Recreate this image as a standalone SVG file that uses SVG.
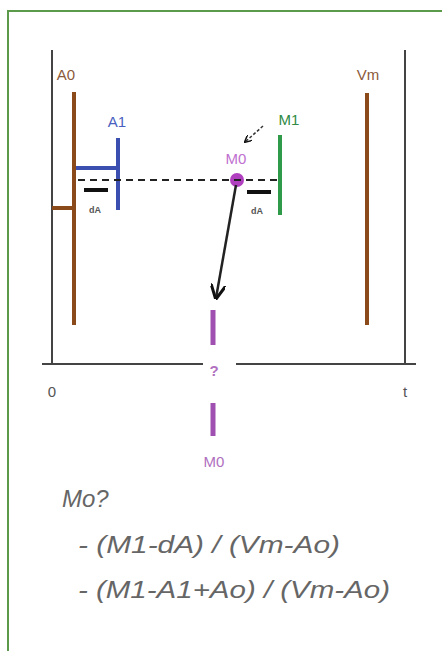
<svg xmlns="http://www.w3.org/2000/svg" width="442" height="651" viewBox="0 0 442 651">
<defs>
<style>
.lbl{font-family:"Liberation Sans",Arial,sans-serif;font-size:15px;text-anchor:middle}
.small{font-family:"Liberation Sans",Arial,sans-serif;font-size:9px;font-weight:bold;fill:#555;text-anchor:middle}
.hand{font-family:"Liberation Sans",Arial,sans-serif;font-style:italic;font-size:24px;fill:#666}
.axis{stroke:#444;stroke-width:2;fill:none}
.brown{stroke:#8B4A1A;stroke-width:4;fill:none}
</style>
<marker id="ah" viewBox="0 0 10 10" refX="9" refY="5" markerWidth="6" markerHeight="6" orient="auto" markerUnits="strokeWidth">
<path d="M0,0 L10,5 L0,10" fill="none" stroke="#111" stroke-width="2"/>
</marker>
<marker id="ah2" viewBox="0 0 10 10" refX="9" refY="5" markerWidth="5" markerHeight="5" orient="auto" markerUnits="strokeWidth">
<path d="M0,0 L10,5 L0,10" fill="none" stroke="#111" stroke-width="2"/>
</marker>
</defs>
<rect x="0" y="0" width="442" height="651" fill="#fff"/>
<path d="M8,651 V11 H442" fill="none" stroke="#5a9a4a" stroke-width="2"/>

<g id="axes">
<line class="axis" x1="52" y1="50" x2="52" y2="364"/>
<line class="axis" x1="405" y1="50" x2="405" y2="364"/>
<line class="axis" x1="42" y1="364" x2="203" y2="364"/>
<line class="axis" x1="236" y1="364" x2="416" y2="364"/>
<text class="lbl" x="52" y="397" fill="#555" font-size="13">0</text>
<text class="lbl" x="405" y="397" fill="#555" font-size="13">t</text>
</g>

<g id="A0">
<line class="brown" x1="74" y1="92" x2="74" y2="325"/>
<line class="brown" x1="52" y1="208" x2="74" y2="208"/>
<text class="lbl" x="66" y="80" fill="#8B5A3A">A0</text>
</g>

<g id="A1">
<line x1="118" y1="138" x2="118" y2="210" stroke="#3a4fb0" stroke-width="4"/>
<line x1="76" y1="168" x2="118" y2="168" stroke="#3a4fb0" stroke-width="4"/>
<text class="lbl" x="117" y="127" fill="#4a5fc0">A1</text>
</g>

<g id="Vm">
<line class="brown" x1="367" y1="93" x2="367" y2="325"/>
<text class="lbl" x="368" y="80" fill="#8B5A3A">Vm</text>
</g>

<g id="M1">
<line x1="280" y1="135" x2="280" y2="215" stroke="#2e9a4a" stroke-width="4"/>
<text class="lbl" x="289" y="125" fill="#2e8a44">M1</text>
</g>

<g id="dA1">
<line x1="84" y1="190" x2="108" y2="190" stroke="#111" stroke-width="4"/>
<text class="small" x="95" y="213">dA</text>
</g>
<g id="dA2">
<line x1="247" y1="192" x2="271" y2="192" stroke="#111" stroke-width="4"/>
<text class="small" x="257" y="214">dA</text>
</g>

<g id="M0">
<circle cx="237" cy="180" r="7" fill="#b040c0"/>
<text class="lbl" x="236" y="164" fill="#c070d0">M0</text>
</g>

<g id="M0result">
<line x1="213" y1="310" x2="213" y2="345" stroke="#a050b0" stroke-width="5"/>
<line x1="213" y1="403" x2="213" y2="436" stroke="#a050b0" stroke-width="5"/>
<text class="lbl" x="214" y="376" fill="#b070c0" font-weight="bold" font-size="14">?</text>
<text class="lbl" x="214" y="467" fill="#b070c0" font-size="14">M0</text>
</g>

<g id="connectors">
<line x1="78" y1="180" x2="280" y2="180" stroke="#222" stroke-width="2" stroke-dasharray="7,5"/>
<line x1="236" y1="185" x2="216" y2="298" stroke="#222" stroke-width="2.5" marker-end="url(#ah)"/>
<line x1="263" y1="126" x2="245" y2="142" stroke="#333" stroke-width="1.5" stroke-dasharray="3,2" marker-end="url(#ah2)"/>
</g>

<g id="formula">
<text class="hand" x="62" y="507">Mo?</text>
<text class="hand" x="78" y="553" textLength="262" lengthAdjust="spacingAndGlyphs">- (M1-dA) / (Vm-Ao)</text>
<text class="hand" x="78" y="598" textLength="312" lengthAdjust="spacingAndGlyphs">- (M1-A1+Ao) / (Vm-Ao)</text>
</g>
</svg>
